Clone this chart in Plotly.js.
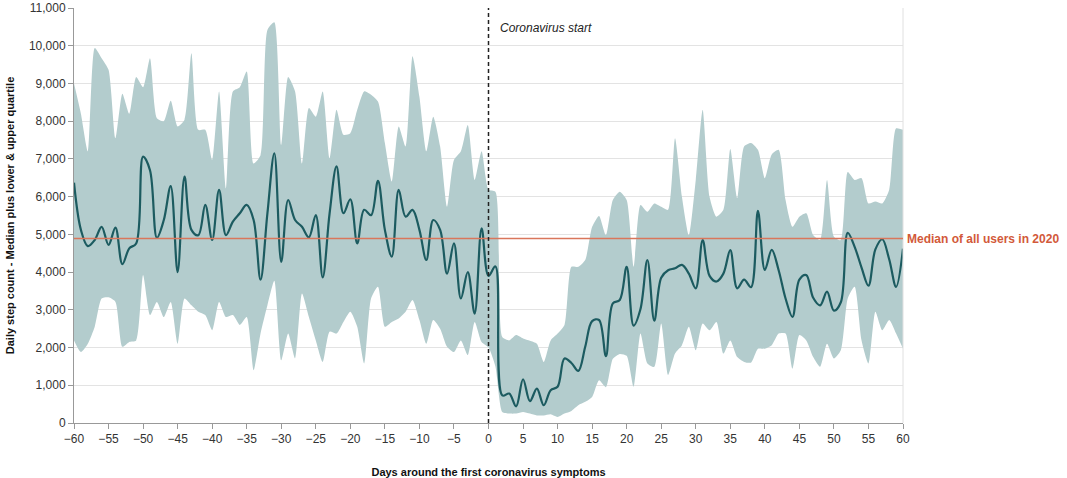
<!DOCTYPE html>
<html>
<head>
<meta charset="utf-8">
<script src="https://cdn.plot.ly/plotly-3.0.1.min.js"></script>
<style>
    html, body { margin: 0; padding: 0; background: #fff; }
    #StepPlot { width: 1067px; height: 478px; }
</style>
</head>
<body>
<div id="StepPlot"></div>
<script>
// Days relative to first symptoms
let days = [
    -60, -59, -58, -57, -56, -55, -54, -53, -52, -51,
    -50, -49, -48, -47, -46, -45, -44, -43, -42, -41,
    -40, -39, -38, -37, -36, -35, -34, -33, -32, -31,
    -30, -29, -28, -27, -26, -25, -24, -23, -22, -21,
    -20, -19, -18, -17, -16, -15, -14, -13, -12, -11,
    -10, -9, -8, -7, -6, -5, -4, -3, -2, -1,
    0, 1, 2, 3, 4, 5, 6, 7, 8, 9,
    10, 11, 12, 13, 14, 15, 16, 17, 18, 19,
    20, 21, 22, 23, 24, 25, 26, 27, 28, 29,
    30, 31, 32, 33, 34, 35, 36, 37, 38, 39,
    40, 41, 42, 43, 44, 45, 46, 47, 48, 49,
    50, 51, 52, 53, 54, 55, 56, 57, 58, 59,
    60
];

let median = [
    6370, 5120, 4690, 4850, 5200, 4720, 5180, 4210, 4630, 4760,
    7060, 6700, 4910, 5380, 6280, 4000, 6530, 5120, 4980, 5780,
    4850, 6180, 4980, 5340, 5560, 5780, 5380, 3800, 5560, 7150,
    4270, 5910, 5380, 5200, 4920, 5510, 3860, 5560, 6800, 5560,
    5930, 4760, 5650, 5510, 6420, 5120, 4410, 6180, 5470, 5650,
    5120, 4320, 5380, 5120, 3960, 4760, 3300, 4000, 2900, 5160,
    3900, 4150, 730, 780, 440, 1160, 580, 910, 470, 870,
    960, 1710, 1590, 1380, 2020, 2700, 2730, 1770, 3170, 3260,
    4140, 2580, 3020, 4320, 2710, 3850, 4050, 4100, 4190, 3960,
    3570, 4850, 3900, 3750, 3960, 4580, 3570, 3800, 3600, 5620,
    4060, 4590, 4050, 3300, 2810, 3800, 3920, 3320, 3120, 3480,
    2980, 3200, 5040, 4670, 4120, 3640, 4600, 4870, 4340, 3610,
    4620
];

let upperQuartile = [
    9000, 8200, 7200, 9940, 9670, 9360, 7550, 8730, 8200, 9170,
    8900, 9670, 8080, 8000, 8540, 7860, 8040, 9800, 7770, 7770,
    6970, 8790, 6220, 8790, 8900, 9320, 6880, 7100, 10420, 10620,
    7370, 9170, 8790, 6880, 8350, 8120, 8790, 7020, 8300, 7640,
    7680, 8300, 8790, 8700, 8520, 7420, 6400, 7860, 7330, 9720,
    8650, 7200, 8120, 7330, 5730, 6970, 7200, 7900, 6440, 7200,
    6180, 6130, 2280, 2190, 2330, 2240, 2180, 2100, 1620, 2190,
    2370, 2600, 4140, 4140, 4320, 5200, 5490, 4980, 5910, 6130,
    5910, 4140, 5780, 5600, 5820, 5730, 5650, 7550, 6000, 4980,
    6440, 8300, 6000, 5470, 5650, 7260, 5960, 7330, 7420, 7240,
    6490, 7120, 7240, 5910, 5200, 5470, 5560, 4980, 4850, 6440,
    4940, 4850, 6650, 6440, 6490, 5820, 5870, 5820, 6180, 7810,
    7770
];

let lowerQuartile = [
    2190, 1880, 2100, 2550, 3300, 3330, 3210, 2020, 2150, 2190,
    3920, 2860, 3210, 2810, 3210, 2100, 3300, 3120, 2950, 2860,
    2460, 3210, 2810, 2860, 2600, 2810, 1400, 2370, 3120, 3770,
    1660, 2370, 1710, 3430, 2810, 2190, 1620, 2420, 2370, 2680,
    2950, 2550, 1580, 3300, 3610, 2550, 2680, 2770, 2950, 3260,
    2730, 2100, 2730, 2500, 2020, 1880, 2190, 1800, 2680, 2150,
    2000, 1500, 290, 250, 250, 290, 250, 200, 200, 230,
    160, 250, 320, 470, 560, 690, 1130, 950, 1700, 1830,
    1780, 960, 2370, 1580, 1490, 2640, 1270, 1840, 2060, 2550,
    1930, 2640, 2460, 2680, 1840, 2190, 1750, 1620, 1600, 1970,
    1970, 2060, 2370, 2370, 1440, 2330, 2190, 1750, 1490, 2100,
    1710, 1930, 3300, 3610, 2190, 1580, 2950, 2460, 2730, 2370,
    1970
];

let allUsersMedian = 4890;
let xTicks = [-60, -55, -50, -45, -40, -35, -30, -25, -20, -15, -10, -5, 0, 5, 10, 15, 20, 25, 30, 35, 40, 45, 50, 55, 60];

const bandColor = '#b3cccd';
const lineColor = '#1c5b60';
const refColor = '#d9765b';
const fontFamily = '"Liberation Sans", Arial, sans-serif';

let traces = [
    {
        x: days,
        y: upperQuartile,
        mode: 'lines',
        type: 'scatter',
        line: { width: 0, shape: 'spline', smoothing: 0.6 },
        hoverinfo: 'skip',
        showlegend: false
    },
    {
        x: days,
        y: lowerQuartile,
        mode: 'lines',
        type: 'scatter',
        fill: 'tonexty',
        fillcolor: bandColor,
        line: { width: 0, shape: 'spline', smoothing: 0.6 },
        hoverinfo: 'skip',
        showlegend: false
    },
    {
        x: days,
        y: median,
        mode: 'lines',
        type: 'scatter',
        line: { color: lineColor, width: 2.2, shape: 'spline', smoothing: 1 },
        showlegend: false
    }
];

let layout = {
    width: 1067,
    height: 478,
    margin: { l: 74, r: 164, t: 8, b: 55 },
    paper_bgcolor: '#fff',
    plot_bgcolor: '#fff',
    font: { family: fontFamily, size: 12, color: '#333' },
    showlegend: false,
    xaxis: {
        range: [-60, 60],
        tickvals: xTicks,
        ticks: 'outside',
        ticklen: 5,
        tickcolor: '#999',
        showgrid: false,
        zeroline: false,
        showline: true,
        linecolor: '#999',
        tickfont: { size: 12, color: '#333' },
        title: {
            text: 'Days around the first coronavirus symptoms',
            font: { size: 11, weight: 'bold', color: '#111' },
            standoff: 24
        }
    },
    yaxis: {
        range: [0, 11000],
        dtick: 1000,
        tickformat: ',d',
        ticks: 'outside',
        ticklen: 5,
        tickcolor: '#999',
        showgrid: true,
        gridcolor: '#e3e3e3',
        zeroline: false,
        showline: true,
        linecolor: '#999',
        tickfont: { size: 12, color: '#333' },
        title: {
            text: 'Daily step count - Median plus lower & upper quartile',
            font: { size: 11, weight: 'bold', color: '#111' },
            standoff: 12
        }
    },
    shapes: [
        // right border of plot area
        { type: 'line', xref: 'paper', yref: 'paper', x0: 1, x1: 1, y0: 0, y1: 1,
          line: { color: '#e0e0e0', width: 1 } },
        // median of all users
        { type: 'line', xref: 'paper', yref: 'y', x0: 0, x1: 1, y0: allUsersMedian, y1: allUsersMedian,
          line: { color: refColor, width: 1.5 } },
        // coronavirus start
        { type: 'line', xref: 'x', yref: 'y', x0: 0, x1: 0, y0: 0, y1: 11000,
          line: { color: '#222', width: 1.5, dash: '4px,3px' } }
    ],
    annotations: [
        {
            x: 0, y: 10480, xref: 'x', yref: 'y',
            xanchor: 'left', yanchor: 'middle', xshift: 9,
            text: 'Coronavirus start', showarrow: false,
            font: { size: 12, style: 'italic', color: '#222' }
        },
        {
            x: 1, y: allUsersMedian, xref: 'paper', yref: 'y',
            xanchor: 'left', yanchor: 'middle', xshift: 2,
            text: 'Median of all users in 2020', showarrow: false,
            font: { size: 12, weight: 'bold', color: '#d2593a' }
        }
    ]
};

Plotly.newPlot('StepPlot', traces, layout, { staticPlot: true });
</script>
</body>
</html>
